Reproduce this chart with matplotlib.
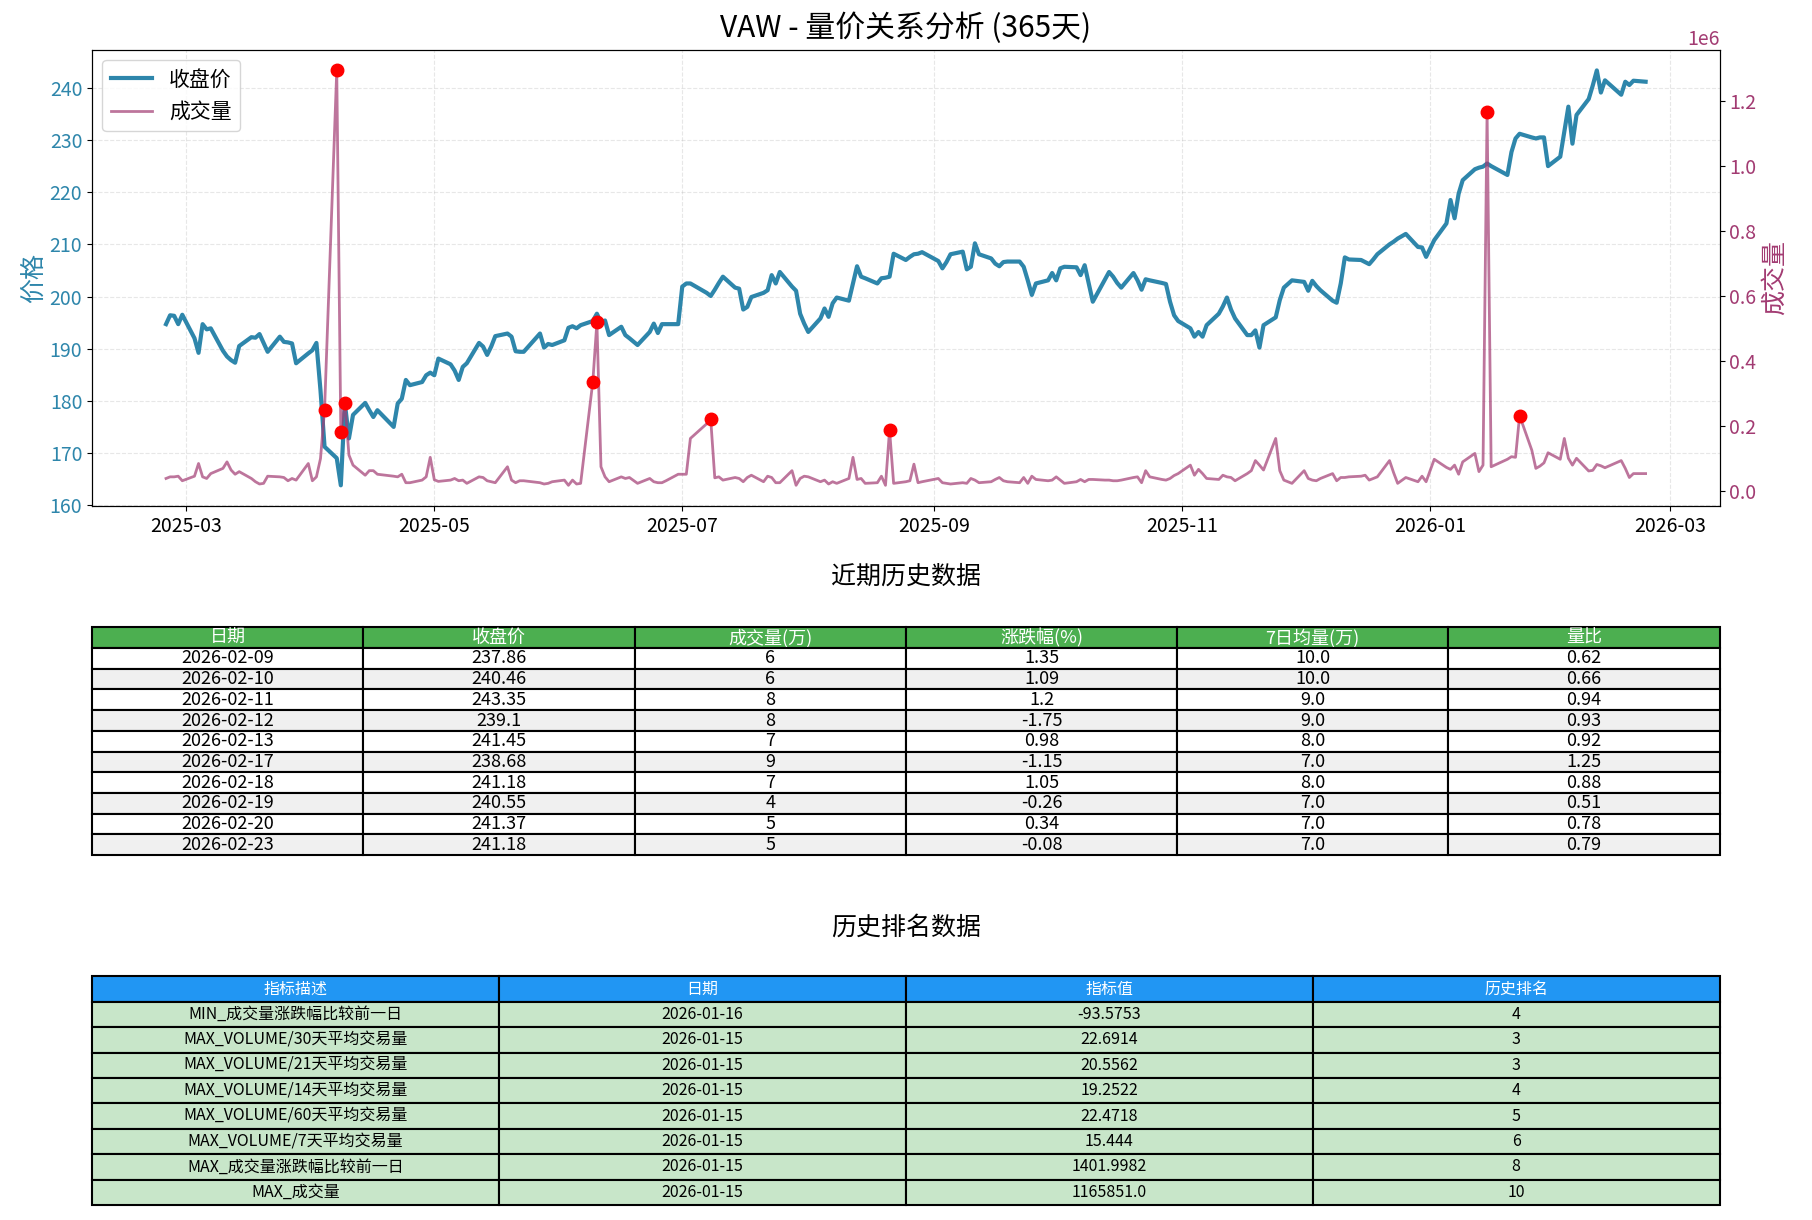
import matplotlib
matplotlib.use('Agg')
import matplotlib.pyplot as plt
import matplotlib.dates as mdates
import numpy as np
import pandas as pd

plt.rcParams['font.family'] = ['Noto Sans CJK SC', 'DejaVu Sans']
plt.rcParams['axes.unicode_minus'] = False

# 交易日 (美股休市日除外)
holidays = ['2025-04-18', '2025-05-26', '2025-06-19', '2025-07-04', '2025-09-01',
            '2025-11-27', '2025-12-25', '2026-01-01', '2026-01-19', '2026-02-16']
dates = pd.bdate_range('2025-02-24', '2026-02-23', freq='C', holidays=holidays)

# 收盘价, 按月
close_price = [
    194.7, 196.4, 196.3, 194.7, 196.5,
    192.0, 189.2, 194.7, 193.7, 193.9, 189.6, 188.5, 187.8, 187.3, 190.5, 192.2,
    192.1, 192.8, 191.1, 189.4, 192.3, 191.3, 191.2, 191.0, 187.2, 189.1,
    189.7, 191.1, 182.0, 171.2, 169.0, 163.8, 179.5, 172.8, 177.3, 179.6, 178.2,
    176.9, 178.2, 175.0, 179.5, 180.4, 184.0, 183.0, 183.6, 184.9, 185.4,
    184.9, 188.1, 187.0, 185.8, 184.0, 186.5, 187.2, 191.1, 190.4, 188.8, 190.4,
    192.4, 192.9, 192.3, 189.5, 189.4, 189.4, 192.9, 190.2, 190.9, 190.7,
    191.6, 194.0, 194.3, 193.9, 194.5, 195.3, 196.7, 195.0, 195.4, 192.6, 194.2,
    192.6, 192.0, 190.7, 193.2, 194.8, 193.0, 194.7, 194.7, 194.7,
    201.9, 202.5, 202.5, 200.7, 200.1, 201.3, 202.6, 203.8, 201.7, 201.5, 197.5,
    198.0, 199.9, 200.7, 201.2, 204.1, 202.5, 204.7, 201.9, 201.1, 196.7, 194.8,
    193.2, 195.8, 197.7, 196.1, 198.7, 199.8, 199.2, 202.5, 205.8, 203.8, 203.5,
    202.5, 203.5, 203.6, 203.8, 208.2, 207.0, 207.6, 208.1, 208.2, 208.5,
    206.8, 205.4, 206.6, 208.1, 208.6, 205.2, 205.7, 210.2, 208.1, 207.3, 206.3,
    205.8, 206.6, 206.7, 206.7, 205.7, 203.1, 200.3, 202.5, 203.1, 204.5,
    203.1, 205.4, 205.7, 205.6, 204.1, 206.0, 202.5, 199.0, 203.3, 204.7, 203.8,
    202.6, 201.7, 204.5, 203.1, 201.3, 203.3, 203.1, 202.6, 202.4, 199.0, 196.4, 195.3,
    193.9, 192.3, 193.2, 192.3, 194.5, 196.7, 198.1, 199.8, 197.5, 195.8, 192.6,
    192.6, 193.5, 190.2, 194.5, 196.0, 199.3, 201.7, 203.1,
    202.8, 201.1, 203.0, 202.0, 201.2, 199.2, 198.8, 202.5, 207.5, 207.1, 207.0,
    206.6, 206.2, 207.1, 208.1, 210.0, 210.5, 211.1, 212.0, 209.5, 209.4, 207.6,
    210.8, 214.0, 218.5, 215.0, 219.7, 222.3, 224.4, 224.7, 224.9, 225.5, 225.0,
    223.3, 227.7, 230.3, 231.2, 230.5, 230.3, 230.5, 230.5, 225.0,
    226.8, 231.6, 236.4, 229.3, 234.8, 237.86, 240.46, 243.35, 239.1, 241.45,
    238.68, 241.18, 240.55, 241.37, 241.18,
]

# 成交量 (千股), 按月
volume_k = [
    39, 44, 44, 46, 32,
    46, 85, 44, 39, 54, 70, 90, 65, 52, 60, 39, 29, 22, 24, 46, 44, 42, 32, 39, 34, 85,
    32, 44, 100, 250, 1293, 183, 272, 111, 80, 49, 63, 63, 52, 46, 44, 52, 26, 26, 34, 44, 104,
    35, 30, 34, 39, 32, 34, 24, 44, 42, 32, 29, 26, 75, 34, 26, 32, 32, 26, 22, 24, 29,
    34, 18, 34, 22, 24, 337, 519, 75, 44, 29, 44, 39, 42, 24, 39, 29, 26, 26, 32, 52,
    52, 52, 162, 207, 221, 41, 44, 34, 42, 39, 29, 42, 49, 29, 46, 42, 26, 26, 63, 18, 39, 46,
    44, 29, 34, 22, 29, 24, 39, 104, 36, 39, 24, 26, 46, 18, 188, 24, 29, 32, 83, 26, 29,
    39, 26, 24, 22, 26, 24, 39, 34, 26, 29, 36, 42, 32, 29, 26, 42, 24, 46, 36, 32, 34,
    44, 34, 24, 29, 36, 29, 36, 36, 34, 34, 32, 32, 34, 42, 44, 26, 63, 44, 36, 34, 39, 48, 54,
    80, 49, 67, 54, 39, 36, 49, 44, 42, 32, 54, 63, 94, 80, 65, 162, 63, 34, 24,
    63, 39, 34, 32, 39, 54, 32, 42, 42, 44, 46, 49, 34, 39, 44, 94, 57, 24, 42, 29, 46, 29,
    98, 73, 67, 80, 52, 90, 116, 60, 80, 1166, 75, 98, 106, 104, 232, 126, 70, 77, 87, 118,
    98, 162, 101, 80, 101, 62, 64, 82, 78, 72, 94, 70, 42, 54, 54,
]

# 放量标记日期
spike_dates = ['2025-04-04', '2025-04-07', '2025-04-08', '2025-04-09', '2025-06-09',
               '2025-06-10', '2025-07-08', '2025-08-21', '2026-01-15', '2026-01-23']

# 近期历史数据
t1_date = ['2026-02-09', '2026-02-10', '2026-02-11', '2026-02-12', '2026-02-13',
           '2026-02-17', '2026-02-18', '2026-02-19', '2026-02-20', '2026-02-23']
t1_close = [237.86, 240.46, 243.35, 239.1, 241.45, 238.68, 241.18, 240.55, 241.37, 241.18]
t1_vol = [6, 6, 8, 8, 7, 9, 7, 4, 5, 5]
t1_chg = [1.35, 1.09, 1.2, -1.75, 0.98, -1.15, 1.05, -0.26, 0.34, -0.08]
t1_avg7 = [10.0, 10.0, 9.0, 9.0, 8.0, 7.0, 8.0, 7.0, 7.0, 7.0]
t1_ratio = [0.62, 0.66, 0.94, 0.93, 0.92, 1.25, 0.88, 0.51, 0.78, 0.79]
t1_cols = ['日期', '收盘价', '成交量(万)', '涨跌幅(%)', '7日均量(万)', '量比']

# 历史排名数据
t2_desc = ['MIN_成交量涨跌幅比较前一日', 'MAX_VOLUME/30天平均交易量', 'MAX_VOLUME/21天平均交易量',
           'MAX_VOLUME/14天平均交易量', 'MAX_VOLUME/60天平均交易量', 'MAX_VOLUME/7天平均交易量',
           'MAX_成交量涨跌幅比较前一日', 'MAX_成交量']
t2_date = ['2026-01-16', '2026-01-15', '2026-01-15', '2026-01-15', '2026-01-15',
           '2026-01-15', '2026-01-15', '2026-01-15']
t2_value = [-93.5753, 22.6914, 20.5562, 19.2522, 22.4718, 15.444, 1401.9982, 1165851.0]
t2_rank = [4, 3, 3, 4, 5, 6, 8, 10]
t2_cols = ['指标描述', '日期', '指标值', '历史排名']

price_color = '#2E86AB'
vol_color = '#A23B72'

volume = np.array(volume_k) * 1000
assert len(close_price) == len(dates) and len(volume) == len(dates)

fig = plt.figure(figsize=(18.12, 12.2), dpi=100)

# 量价走势图
ax = fig.add_axes([0.0508, 0.5852, 0.8982, 0.3741])
ax2 = ax.twinx()
l1, = ax.plot(dates, close_price, color=price_color, linewidth=3, label='收盘价')
l2, = ax2.plot(dates, volume, color=vol_color, linewidth=2, alpha=0.7, label='成交量')
idx = dates.get_indexer(pd.to_datetime(spike_dates))
ax2.plot(dates[idx], volume[idx], 'o', color='red', markersize=9)

ax.set_ylabel('价格', color=price_color, fontsize=18, labelpad=2)
ax2.set_ylabel('成交量', color=vol_color, fontsize=18, labelpad=4)
ax.tick_params(axis='y', labelcolor=price_color, labelsize=14)
ax2.tick_params(axis='y', labelcolor=vol_color, labelsize=14)
ax.tick_params(axis='x', labelsize=14)
ax2.yaxis.get_offset_text().set_color(vol_color)
ax2.yaxis.get_offset_text().set_fontsize(14)
ax.xaxis.set_major_locator(mdates.MonthLocator(bymonth=[1, 3, 5, 7, 9, 11]))
ax.xaxis.set_major_formatter(mdates.DateFormatter('%Y-%m'))
ax.grid(True, alpha=0.3, linestyle='--')
ax.legend([l1, l2], ['收盘价', '成交量'], loc='upper left', fontsize=15)
fig.text(0.5, 0.977, 'VAW - 量价关系分析 (365天)', ha='center', va='center', fontsize=21.5)


def draw_table(rect, title, title_y, cols, rows, head_color, body_colors, fontsize):
    tax = fig.add_axes(rect)
    tax.axis('off')
    tb = tax.table(cellText=rows, colLabels=cols, cellLoc='center', loc='center', bbox=[0, 0, 1, 1])
    tb.auto_set_font_size(False)
    tb.set_fontsize(fontsize)
    for (r, c), cell in tb.get_celld().items():
        cell.set_linewidth(1.5)
        if r == 0:
            cell.set_facecolor(head_color)
            cell.get_text().set_color('white')
        else:
            cell.set_facecolor(body_colors[(r - 1) % len(body_colors)])
    fig.text(0.5, title_y, title, ha='center', va='center', fontsize=18)


rows1 = [[d, str(p), str(v), str(c), str(a), str(q)]
         for d, p, v, c, a, q in zip(t1_date, t1_close, t1_vol, t1_chg, t1_avg7, t1_ratio)]
draw_table([0.0508, 0.2992, 0.8982, 0.1865], '近期历史数据', 0.527, t1_cols, rows1,
           '#4CAF50', ['white', '#f0f0f0'], 13)

rows2 = [[d, t, str(v), str(k)] for d, t, v, k in zip(t2_desc, t2_date, t2_value, t2_rank)]
draw_table([0.0508, 0.0123, 0.8982, 0.1873], '历史排名数据', 0.240, t2_cols, rows2,
           '#2196F3', ['#C8E6C9'], 11.5)

fig.savefig('out.png', dpi=100)
